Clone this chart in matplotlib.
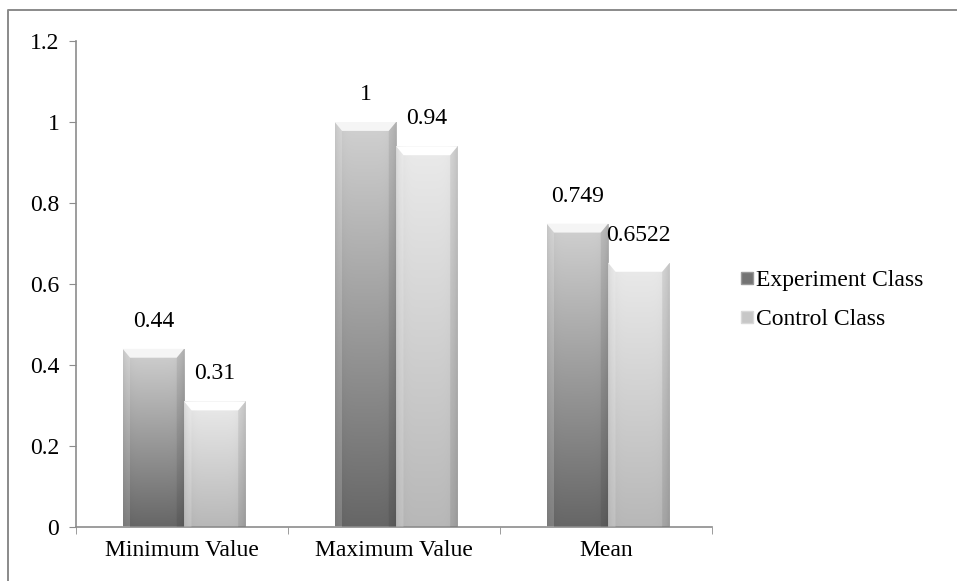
import numpy as np
import matplotlib

matplotlib.use("Agg")
import matplotlib.pyplot as plt
from matplotlib.lines import Line2D
from matplotlib.patches import Polygon

categories = ["Minimum Value", "Maximum Value", "Mean"]
experiment = [0.44, 1.0, 0.749]
control = [0.31, 0.94, 0.6522]
value_labels_exp = ["0.44", "1", "0.749"]
value_labels_ctl = ["0.31", "0.94", "0.6522"]
series_names = ["Experiment Class", "Control Class"]
yticks = [0, 0.2, 0.4, 0.6, 0.8, 1.0, 1.2]
ytick_labels = ["0", "0.2", "0.4", "0.6", "0.8", "1", "1.2"]

W, H, DPI = 957, 581, 100
FONT = "Liberation Serif"
FS = 17
BAR_W = 0.29
AX_GRAY = "#8c8c8c"

# (top, bottom) grey levels of the vertical gradient for each series
SHADES = [(0.82, 0.40), (0.92, 0.72)]


def shaded_bar(ax, x0, height, width, shade):
    top, bottom = shade
    ny, nx = 200, 60
    v = np.linspace(0, 1, ny)[:, None]          # 0 at bottom, 1 at top
    u = np.linspace(-1, 1, nx)[None, :]
    base = bottom + (top - bottom) * v
    edge = 1 - 0.10 * np.abs(u) ** 6             # darker at left/right edges
    img = np.clip(base * edge, 0, 1)
    rgb = np.dstack([img, img, img])
    bar = ax.bar(x0, height, width, align="edge", facecolor="none",
                 edgecolor="none", zorder=2)[0]
    im = ax.imshow(rgb, extent=(x0, x0 + width, 0, height), origin="lower",
                   aspect="auto", zorder=2, interpolation="bilinear")
    im.set_clip_path(bar)
    # bevelled top cap
    cap = 0.022
    inset = width * 0.12
    light = min(1.0, top + 0.14)
    ax.add_patch(Polygon([(x0, height), (x0 + width, height),
                          (x0 + width - inset, height - cap),
                          (x0 + inset, height - cap)], closed=True,
                         facecolor=(light, light, light), edgecolor="none",
                         zorder=3))
    ax.add_patch(Polygon([(x0, height), (x0 + inset, height - cap),
                          (x0 + inset, 0), (x0, 0)], closed=True,
                         facecolor=(1, 1, 1, 0.18), edgecolor="none", zorder=3))
    ax.add_patch(Polygon([(x0 + width, height), (x0 + width - inset, height - cap),
                          (x0 + width - inset, 0), (x0 + width, 0)], closed=True,
                         facecolor=(0, 0, 0, 0.08), edgecolor="none", zorder=3))


fig = plt.figure(figsize=(W / DPI, H / DPI), dpi=DPI)
ax = fig.add_axes([76 / W, 1 - 527 / H, (712 - 76) / W, (527 - 41) / H])

for i in range(len(categories)):
    left = i + 0.5 - BAR_W + 0.01
    shaded_bar(ax, left, experiment[i], BAR_W, SHADES[0])
    shaded_bar(ax, left + BAR_W, control[i], BAR_W, SHADES[1])
    ax.text(left + BAR_W / 2, experiment[i] + 0.042, value_labels_exp[i],
            ha="center", va="bottom", fontsize=FS, family=FONT)
    ax.text(left + BAR_W * 1.5, control[i] + 0.042, value_labels_ctl[i],
            ha="center", va="bottom", fontsize=FS, family=FONT)

ax.set_xlim(0, len(categories))
ax.set_ylim(0, 1.2)
ax.set_yticks(yticks)
ax.set_yticklabels(ytick_labels, family=FONT, fontsize=FS)
ax.set_xticks([i + 0.5 for i in range(len(categories))])
ax.set_xticklabels(categories, family=FONT, fontsize=FS)
ax.set_xticks(range(len(categories) + 1), minor=True)
ax.tick_params(axis="x", which="major", length=0, pad=9)
ax.tick_params(axis="x", which="minor", length=5, color=AX_GRAY, direction="out")
ax.tick_params(axis="y", length=5, color=AX_GRAY, direction="out", pad=7)
for side in ("top", "right"):
    ax.spines[side].set_visible(False)
for side in ("left", "bottom"):
    ax.spines[side].set_color(AX_GRAY)
    ax.spines[side].set_linewidth(1.2)

handles = [Line2D([], [], marker="s", linestyle="none", markersize=8,
                  markerfacecolor=(0.45, 0.45, 0.45), markeredgecolor=(0.6, 0.6, 0.6)),
           Line2D([], [], marker="s", linestyle="none", markersize=8,
                  markerfacecolor=(0.78, 0.78, 0.78), markeredgecolor=(0.85, 0.85, 0.85))]
fig.legend(handles, series_names, loc="center left",
           bbox_to_anchor=(716 / W, 1 - 300 / H), frameon=False,
           prop={"family": FONT, "size": FS}, handletextpad=0.0,
           handlelength=0.8, labelspacing=0.75)

# outer chart-area frame (top and left edges)
fig.add_artist(Line2D([8 / W, 8 / W, 956 / W], [0, 1 - 10 / H, 1 - 10 / H],
                      transform=fig.transFigure, color="#8a8a8a", linewidth=1.4))

fig.savefig("out.png", dpi=DPI)
